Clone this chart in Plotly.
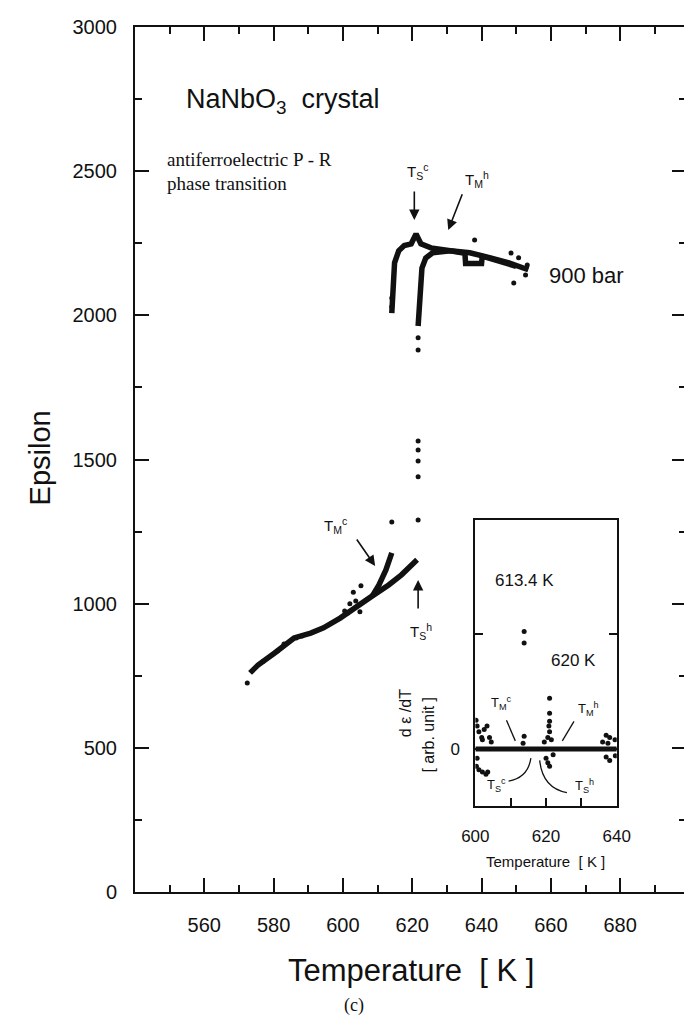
import plotly.graph_objects as go

# ---------------- data ----------------
# lower branch, heating path (Epsilon vs T)
low_heat_T = [573.2, 575.5, 580.3, 585.9, 590.7, 594.4, 599.2, 603.7, 608.5, 613.2, 616.9, 621.4]
low_heat_E = [760, 787, 829, 881, 898, 916, 950, 985, 1027, 1065, 1100, 1152]
# lower branch, cooling path (T_M^c side)
low_cool_T = [608.5, 610.4, 612.4, 614.1]
low_cool_E = [1027, 1065, 1117, 1176]
# upper branch, cooling path (T_S^c)
up_cool_T = [614.1, 614.2, 614.4, 614.9, 616.1, 617.7, 619.7, 621.1, 622.5, 625.4, 631.0, 636.6, 642.3, 647.9, 653.5]
up_cool_E = [2008, 2050, 2095, 2182, 2224, 2242, 2248, 2282, 2248, 2234, 2224, 2217, 2200, 2182, 2158]
# upper branch, heating path (T_M^h)
up_heat_T = [621.7, 622.0, 622.3, 622.8, 623.9, 625.9, 631.0, 635.2, 635.4, 640.0, 640.2, 645.0, 650.0]
up_heat_E = [1963, 2026, 2095, 2164, 2199, 2217, 2224, 2215, 2180, 2180, 2205, 2190, 2170]
# isolated points
dots_T = [572.4, 621.7, 621.7, 621.7, 621.7, 621.7, 621.7, 621.7, 614.1, 614.1, 614.1,
          604.9, 605.2, 602.0, 600.5, 603.0, 638.0, 648.5, 649.3, 650.7, 652.7, 653.2,
          586.5, 588.2, 581.1, 601.4, 603.7, 577.0, 583.0]
dots_E = [725, 1290, 1440, 1495, 1533, 1564, 1880, 1922, 1283, 2030, 2060,
          972, 1062, 1000, 975, 1040, 2261, 2216, 2112, 2200, 2140, 2175,
          881, 888, 836, 968, 1009, 800, 860]

# inset: d(eps)/dT vs T (arb. unit)
ins_line_T = [600, 605, 610, 615, 620, 625, 630, 635, 640]
ins_line_V = [0, 0, 0, 0, 0, 0, 0, 0, 0]
ins_dots_T = [600.2, 600.5, 601.0, 601.8, 602.5, 603.3, 604.0, 600.3, 601.0, 602.0, 603.0, 603.5,
              600.5, 602.0, 604.5, 613.8, 613.8, 613.8, 613.5, 621.0, 621.0, 621.0, 620.8, 621.0,
              620.5, 621.5, 620.0, 620.5, 621.0, 619.5, 622.0, 637.0, 638.0, 637.5, 637.0, 638.0,
              639.5, 639.6, 636.0]
ins_dots_V = [0.25, 0.20, 0.15, 0.10, 0.17, 0.20, 0.10, -0.15, -0.18, -0.20, -0.22, -0.20,
              -0.08, 0.08, 0.06, 1.02, 0.92, 0.11, 0.05, 0.44, 0.31, 0.24, 0.20, 0.15,
              0.10, 0.08, -0.08, -0.12, -0.15, 0.06, -0.05, 0.12, 0.10, 0.05, -0.07, -0.10,
              0.08, -0.06, 0.06]

main_xticks = [560, 580, 600, 620, 640, 660, 680]
main_yticks = [0, 500, 1000, 1500, 2000, 2500, 3000]
inset_xticks = [600, 610, 620, 630, 640]
inset_xtext = ["600", "", "620", "", "640"]

# ---------------- layout helpers ----------------
W, H = 692, 1020
L, R, TOP, BOT = 127, 692, 19, 884


def px(x):
    return (x - L) / (R - L)


def py(y):
    return (BOT - y) / (BOT - TOP)


SANS = "Liberation Sans, Arial, sans-serif"
SERIF = "Liberation Serif, Times New Roman, serif"
BLACK = "#111111"

fig = go.Figure()
for tx, ty in [(low_heat_T, low_heat_E), (low_cool_T, low_cool_E),
               (up_cool_T, up_cool_E), (up_heat_T, up_heat_E)]:
    fig.add_trace(go.Scatter(x=tx, y=ty, mode="lines",
                             line=dict(color=BLACK, width=5.5), hoverinfo="skip",
                             showlegend=False))
fig.add_trace(go.Scatter(x=dots_T, y=dots_E, mode="markers",
                         marker=dict(color=BLACK, size=5), showlegend=False))

fig.add_trace(go.Scatter(x=ins_line_T, y=ins_line_V, xaxis="x2", yaxis="y2", mode="lines",
                         line=dict(color=BLACK, width=5), showlegend=False))
fig.add_trace(go.Scatter(x=ins_dots_T, y=ins_dots_V, xaxis="x2", yaxis="y2", mode="markers",
                         marker=dict(color=BLACK, size=5), showlegend=False))

axis_common = dict(showgrid=False, zeroline=False, showline=True, linecolor=BLACK,
                   ticks="inside", tickcolor=BLACK)

fig.update_layout(
    width=W, height=H,
    margin=dict(l=L, r=W - R, t=TOP, b=H - BOT),
    paper_bgcolor="white", plot_bgcolor="white",
    font=dict(family=SANS, color=BLACK),
    xaxis=dict(**axis_common, range=[540, 699], domain=[0, 1], linewidth=2, mirror="ticks",
               tickvals=main_xticks, ticklen=14, tickwidth=2,
               minor=dict(dtick=20, tick0=550, ticklen=7, tickwidth=2, ticks="inside",
                          tickcolor=BLACK),
               tickfont=dict(size=20, family=SANS), ticklabelstandoff=14),
    yaxis=dict(**axis_common, range=[0, 3000], domain=[0, 1], linewidth=2, mirror="ticks",
               tickvals=main_yticks, ticklen=14, tickwidth=2,
               minor=dict(dtick=500, tick0=250, ticklen=7, tickwidth=2, ticks="inside",
                          tickcolor=BLACK),
               tickfont=dict(size=20, family=SANS), ticklabelstandoff=12),
    xaxis2=dict(**axis_common, range=[600, 640], domain=[px(476), px(621)], anchor="y2",
                linewidth=2, mirror=True, tickvals=inset_xticks, ticktext=inset_xtext,
                ticklen=8, tickwidth=2, tickfont=dict(size=17, family=SANS),
                ticklabelstandoff=14),
    yaxis2=dict(**axis_common, range=[-0.496, 1.99], domain=[py(798), py(512)], anchor="x2",
                linewidth=2, mirror="ticks", tickvals=[0, 1], ticktext=["0", ""],
                ticklen=8, tickwidth=2, tickfont=dict(size=17, family=SANS),
                ticklabelstandoff=10),
)

ann = []


def ptext(x, y, text, size, family=SANS, xanchor="center", angle=0):
    ann.append(dict(x=px(x), y=py(y), xref="paper", yref="paper", text=text,
                    showarrow=False, xanchor=xanchor, yanchor="middle", textangle=angle,
                    font=dict(size=size, family=family, color=BLACK)))


# main axis titles and texts
ptext(30, 450, "Epsilon", 29, angle=-90)
ptext(410, 962, "Temperature&nbsp;&nbsp;[ K ]", 31)
ptext(352, 997, "(c)", 18, family=SERIF)
ptext(177, 93, "NaNbO<sub>3</sub>&nbsp;&nbsp;crystal", 27, xanchor="left")
ptext(158, 152, "antiferroelectric P - R", 19, family=SERIF, xanchor="left")
ptext(158, 176, "phase transition", 19, family=SERIF, xanchor="left")
ptext(590, 267, "900 bar", 22)

# inset texts
ptext(548, 853, "Temperature&nbsp;&nbsp;[ K ]", 15)
ptext(526, 572, "613.4 K", 17)
ptext(577, 652, "620 K", 17)
ptext(404, 705, "d ε /dT", 16, angle=-90)
ptext(427, 727, "[ arb. unit ]", 16, angle=-90)


def dtext(x, y, text, size, xr="x", yr="y"):
    ann.append(dict(x=x, y=y, xref=xr, yref=yr, text=text, showarrow=False,
                    font=dict(size=size, family=SANS, color=BLACK)))


def arrow(x0, y0, x1, y1):
    ann.append(dict(x=x1, y=y1, ax=x0, ay=y0, xref="x", yref="y", axref="x", ayref="y",
                    text="", showarrow=True, arrowhead=2, arrowsize=1.3, arrowwidth=1.6,
                    arrowcolor=BLACK))


# main-plot arrows and labels
arrow(620.6, 2435, 620.6, 2331)
dtext(621.5, 2500, "T<sub>S</sub><sup>c</sup>", 15)
arrow(634.6, 2425, 630.4, 2296)
dtext(638.6, 2470, "T<sub>M</sub><sup>h</sup>", 15)
arrow(603.7, 1228, 609.3, 1131)
dtext(598.0, 1270, "T<sub>M</sub><sup>c</sup>", 15)
arrow(621.7, 978, 621.7, 1082)
dtext(622.5, 905, "T<sub>S</sub><sup>h</sup>", 15)

# inset labels
dtext(607.4, 0.40, "T<sub>M</sub><sup>c</sup>", 13, "x2", "y2")
dtext(632.0, 0.35, "T<sub>M</sub><sup>h</sup>", 13, "x2", "y2")
dtext(606.1, -0.31, "T<sub>S</sub><sup>c</sup>", 13, "x2", "y2")
dtext(630.9, -0.32, "T<sub>S</sub><sup>h</sup>", 13, "x2", "y2")

fig.update_layout(annotations=ann)

# inset guide lines
line_style = dict(color=BLACK, width=1.3)
fig.add_shape(type="line", xref="x2", yref="y2", x0=608.8, y0=0.25, x1=611.3, y1=0.07,
              line=line_style)
fig.add_shape(type="line", xref="x2", yref="y2", x0=627.9, y0=0.24, x1=624.6, y1=0.07,
              line=line_style)
fig.add_shape(type="path", xref="x2", yref="y2",
              path="M 609.4,-0.28 Q 614.9,-0.25 615.7,-0.08", line=line_style)
fig.add_shape(type="path", xref="x2", yref="y2",
              path="M 618.2,-0.10 Q 619.0,-0.34 625.9,-0.38", line=line_style)

fig.write_html("out.html")
